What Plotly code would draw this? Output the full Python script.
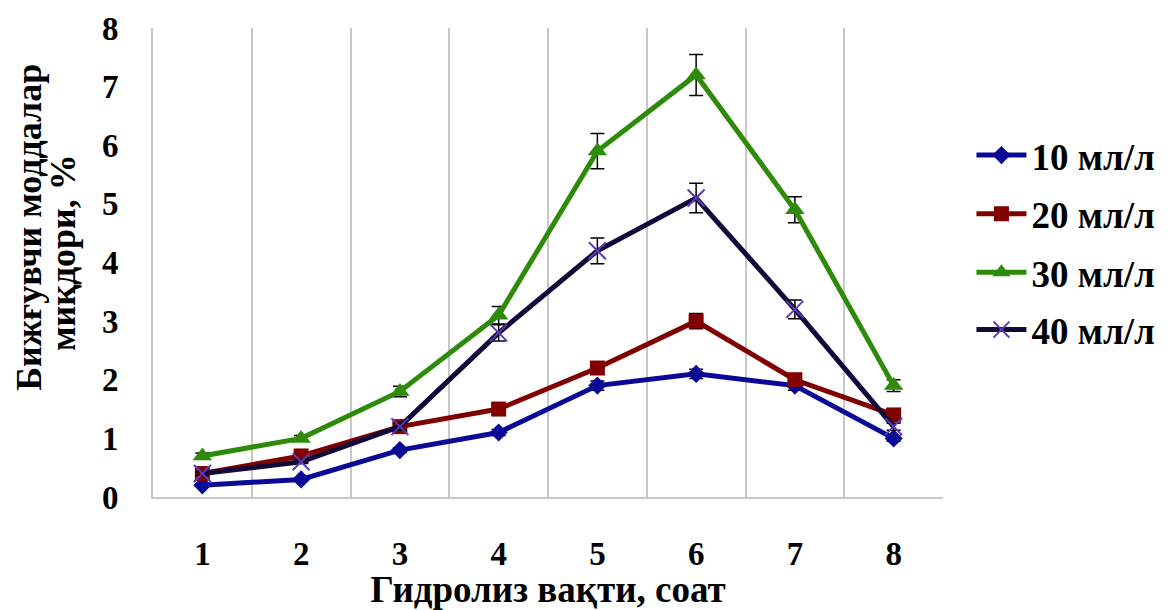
import plotly.graph_objects as go

hours = [1, 2, 3, 4, 5, 6, 7, 8]
tick_labels = ["1", "2", "3", "4", "5", "6", "7", "8"]
y_ticks = [0, 1, 2, 3, 4, 5, 6, 7, 8]

names = ["10 мл/л", "20 мл/л", "30 мл/л", "40 мл/л"]
s10 = [0.2, 0.3, 0.8, 1.1, 1.9, 2.1, 1.9, 1.0]
s20 = [0.4, 0.7, 1.2, 1.5, 2.2, 3.0, 2.0, 1.4]
s30 = [0.7, 1.0, 1.8, 3.1, 5.9, 7.2, 4.9, 1.9]
s40 = [0.4, 0.6, 1.2, 2.8, 4.2, 5.1, 3.2, 1.2]

e10 = [0.02, 0.03, 0.04, 0.05, 0.08, 0.08, 0.08, 0.05]
e20 = [0.03, 0.04, 0.06, 0.07, 0.10, 0.13, 0.10, 0.07]
e30 = [0.05, 0.05, 0.09, 0.15, 0.30, 0.35, 0.22, 0.10]
e40 = [0.03, 0.03, 0.06, 0.14, 0.22, 0.25, 0.16, 0.06]

y_title_lines = ["Бижғувчи моддалар", "миқдори, %"]
x_title = "Гидролиз вақти, соат"

FONT = "Liberation Serif"

styles = [
    dict(color="#0A0A96", symbol="diamond", size=14, mcolor="#0A0A96", mline=0),
    dict(color="#800000", symbol="square", size=15, mcolor="#800000", mline=0),
    dict(color="#2E8B0A", symbol="triangle-up", size=17, mcolor="#2E8B0A", mline=0),
    dict(color="#12083A", symbol="x-thin", size=17, mcolor="#5A3CB4", mline=2),
]

series = [s10, s20, s30, s40]
errors = [e10, e20, e30, e40]

fig = go.Figure()
legend_ys = [0.728, 0.603, 0.478, 0.356]
for i, (nm, ys, er, st) in enumerate(zip(names, series, errors, styles)):
    lg = "legend" if i == 0 else f"legend{i+1}"
    fig.add_trace(go.Scatter(
        x=hours, y=ys, name=nm, mode="lines+markers",
        line=dict(color=st["color"], width=5),
        marker=dict(symbol=st["symbol"], size=st["size"], color=st["mcolor"],
                    line=dict(width=st["mline"], color=st["mcolor"])),
        error_y=dict(type="data", array=er, visible=True, color="black",
                     thickness=1.5, width=7),
        legend=lg,
    ))

legend_common = dict(
    x=1.036, xanchor="left", yanchor="middle",
    font=dict(family=FONT, size=37, color="black", weight="bold"),
    bgcolor="rgba(0,0,0,0)", borderwidth=0, itemwidth=50,
)

layout_legends = {}
for i, ly in enumerate(legend_ys):
    key = "legend" if i == 0 else f"legend{i+1}"
    layout_legends[key] = dict(legend_common, y=ly)

# the page body adds an 8px offset; compensate so the plot lands where the reference has it
fig.update_layout(
    width=1164, height=602,
    margin=dict(l=145, r=223, t=20, b=113),
    paper_bgcolor="white", plot_bgcolor="white",
    font=dict(family=FONT, color="black", weight="bold"),
    showlegend=True,
    xaxis=dict(
        range=[0.5, 8.5], tickvals=hours, ticktext=tick_labels,
        showgrid=False, zeroline=False, automargin=False,
        showline=True, linecolor="#C8C8C8", linewidth=2,
        ticks="", ticklabelstandoff=26,
        tickfont=dict(family=FONT, size=33, color="black", weight="bold"),
        minor=dict(tick0=0.5, dtick=1, showgrid=True, gridcolor="#C8C8C8",
                   gridwidth=1.5, ticks=""),
        title=dict(text=x_title, standoff=10,
                   font=dict(family=FONT, size=37, color="black", weight="bold")),
    ),
    yaxis=dict(
        range=[0, 8], tickvals=y_ticks,
        showgrid=False, zeroline=False, automargin=False,
        showline=True, linecolor="#C8C8C8", linewidth=2,
        ticks="", ticklabelstandoff=26,
        tickfont=dict(family=FONT, size=33, color="black", weight="bold"),
    ),
    **layout_legends,
)

# two-line rotated y-axis title
for xs, yp, txt in zip([-124, -90], [0.574, 0.520], y_title_lines):
    fig.add_annotation(
        text=txt, xref="paper", yref="paper", x=0, y=yp,
        xshift=xs, xanchor="center", yanchor="middle",
        textangle=-90, showarrow=False,
        font=dict(family=FONT, size=36, color="black", weight="bold"),
    )

fig.write_html("out.html")
